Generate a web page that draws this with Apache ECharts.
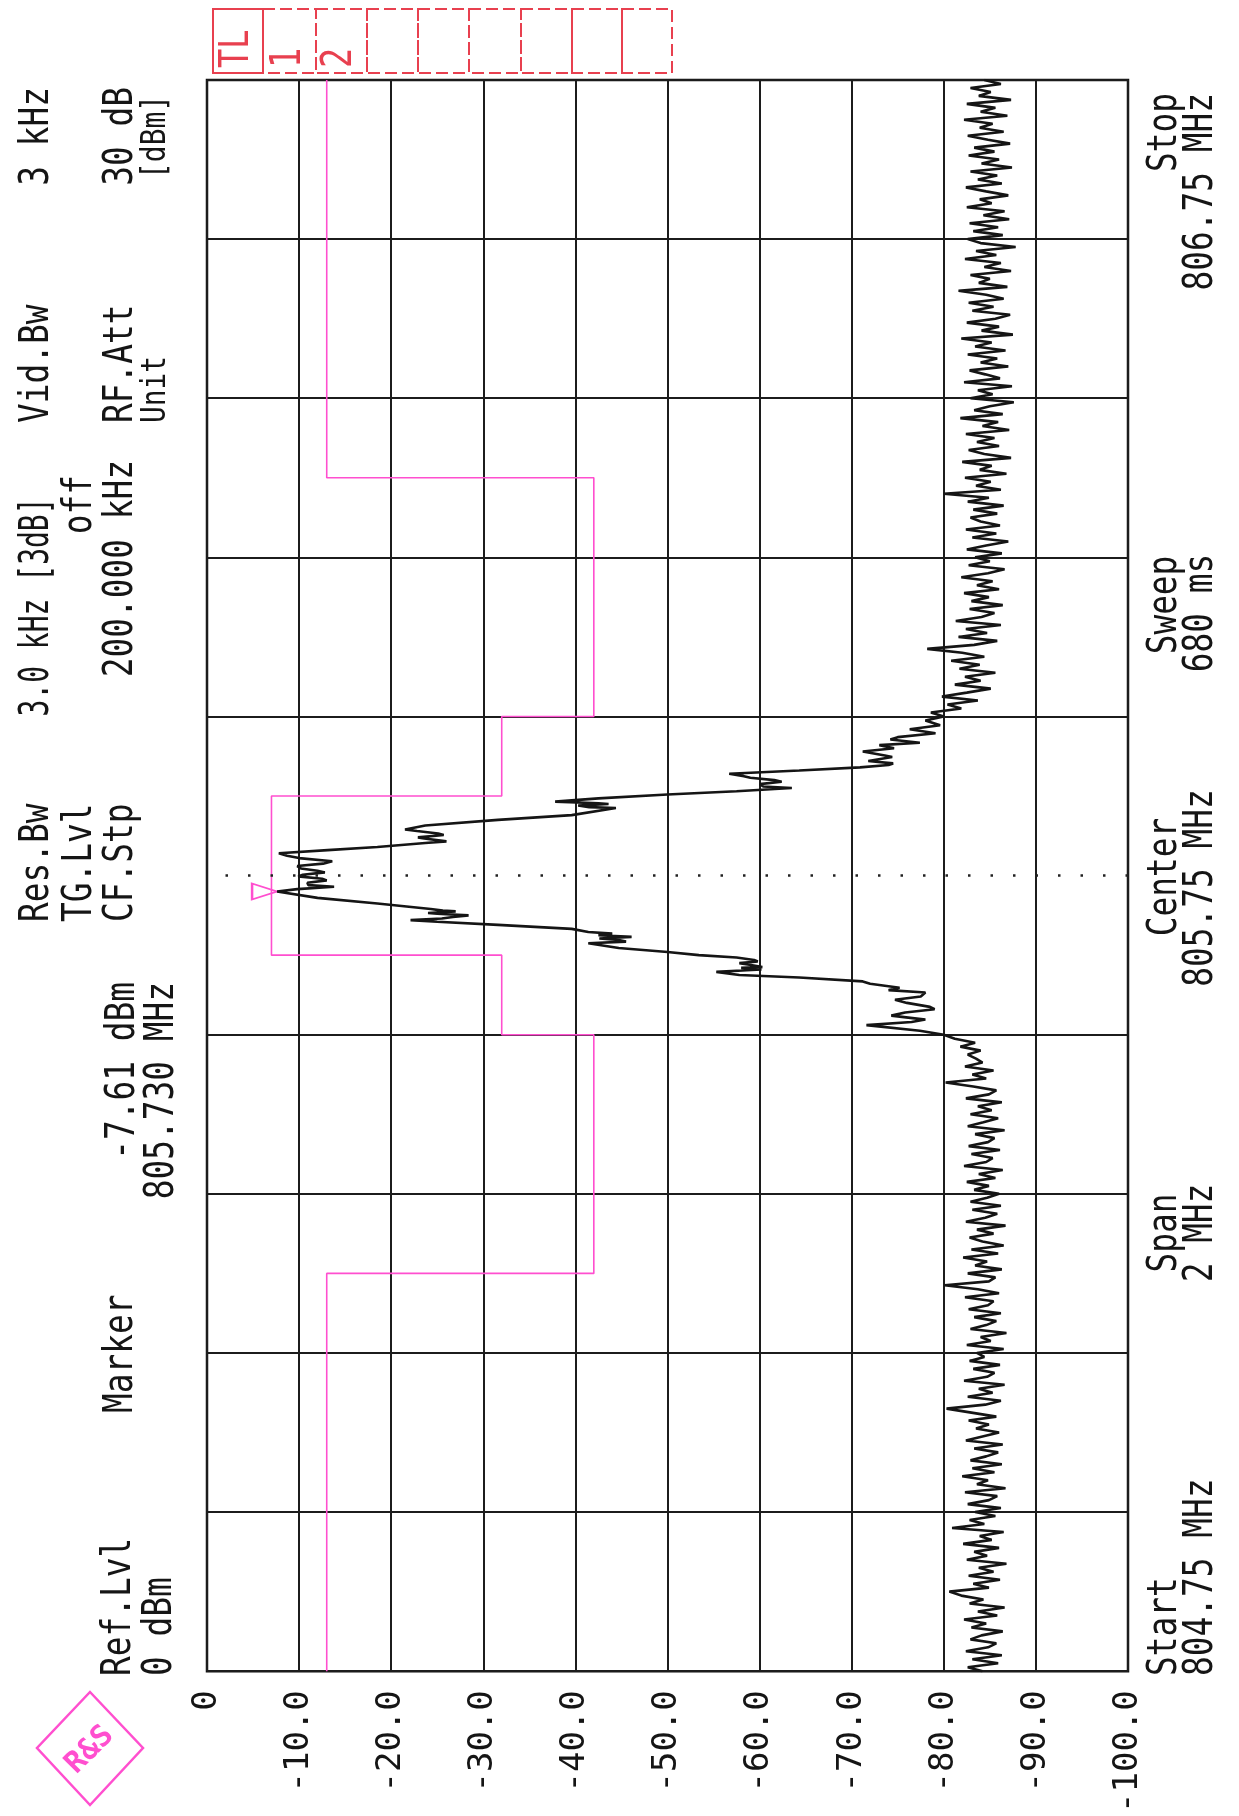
<!DOCTYPE html>
<html><head><meta charset="utf-8">
<script src="https://cdn.jsdelivr.net/npm/echarts@6.0.0/dist/echarts.min.js"></script>
<style>html,body{margin:0;padding:0;background:#fff;}#c{width:1239px;height:1816px;}</style>
</head><body><div id="c"></div>
<script>
// ---------------- data ----------------
const START_MHZ = 804.75;
const STOP_MHZ = 806.75;
const STEP_MHZ = 0.005;
const levelTickLabels = ['0','-10.0','-20.0','-30.0','-40.0','-50.0','-60.0','-70.0','-80.0','-90.0','-100.0'];

// noise floor below the carrier, 804.750 ... 805.545 MHz (5 kHz steps)
const lowNoiseLevels = [
 -84.2,-82.6,-85.9,-83.1,-86.3,-82.4,-84.8,-85.7,-82.9,-84.1,
 -86.4,-83.0,-84.6,-82.2,-85.8,-83.7,-86.6,-82.8,-84.3,-81.9,
 -80.6,-84.9,-83.2,-86.1,-82.7,-85.4,-83.8,-86.8,-82.5,-84.7,
 -83.3,-86.0,-82.1,-85.2,-83.9,-86.5,-80.9,-84.4,-82.8,-85.6,
 -83.4,-86.2,-82.6,-84.9,-85.8,-82.3,-86.7,-83.6,-84.8,-82.0,
 -85.5,-83.1,-86.3,-82.9,-84.6,-85.9,-83.3,-86.4,-82.4,-84.2,
 -86.0,-83.5,-84.9,-82.7,-85.7,-83.0,-80.3,-84.5,-86.2,-82.6,
 -85.3,-83.8,-86.6,-82.2,-84.7,-85.5,-83.2,-86.1,-82.8,-84.4,
 -83.6,-86.5,-82.5,-85.1,-84.0,-86.8,-82.9,-84.6,-85.7,-83.3,
 -86.2,-82.7,-84.8,-85.4,-82.3,-86.0,-83.7,-80.1,-84.9,-85.6,
 -82.6,-86.3,-83.4,-84.7,-82.1,-85.9,-83.0,-86.5,-84.2,-82.8,
 -85.4,-83.6,-86.7,-82.4,-84.5,-85.8,-83.1,-86.2,-82.9,-84.7,
 -86.0,-83.3,-84.9,-82.5,-85.6,-83.8,-86.4,-82.2,-84.6,-85.3,
 -83.0,-86.1,-82.7,-84.8,-85.5,-83.4,-86.6,-82.6,-84.3,-85.9,
 -82.9,-85.2,-83.7,-86.3,-82.4,-84.9,-85.7,-83.2,-80.2,-84.6,
 -83.1,-85.4,-82.3,-84.2,-83.5,-82.6,-84.0,-81.8,-83.4,-81.2
];
const lowNoiseStart = 804.750;

// carrier region (frequency / level pairs)
const signalFreqs = [
 805.550,805.555,805.562,805.566,805.569,805.574,805.578,805.582,805.585,805.590,
 805.594,805.598,805.603,805.606,805.609,805.614,805.617,805.622,805.625,805.629,
 805.631,805.632,805.634,805.635,805.638,805.640,805.642,805.644,805.647,805.650,
 805.654,805.659,805.665,805.667,805.669,805.671,805.673,805.675,805.677,805.679,
 805.683,805.688,805.692,805.694,805.696,805.698,805.700,805.702,805.703,805.705,
 805.706,805.708,805.715,805.722,805.730,805.733,805.736,805.738,805.741,805.744,
 805.746,805.749,805.751,805.754,805.756,805.759,805.762,805.765,805.768,805.772,
 805.775,805.778,805.782,805.786,805.791,805.793,805.795,805.797,805.798,805.801,
 805.803,805.806,805.808,805.813,805.820,805.826,805.835,805.836,805.838,805.840,
 805.841,805.843,805.847,805.852,805.856,805.860,805.862,805.865,805.868,805.870,
 805.873,805.875,805.878,805.882,805.886,805.889,805.891,805.894,805.896,805.899,
 805.901,805.906,805.910,805.914,805.917,805.921,805.924,805.929,805.934,805.939,
 805.945,805.950
];
const signalLevels = [
 -80.0,-77.4,-71.6,-76.5,-78.0,-74.3,-75.8,-79.0,-78.5,-76.0,
 -74.7,-77.5,-78.0,-74.0,-75.2,-72.0,-71.2,-64.3,-57.8,-55.3,
 -58.6,-60.2,-58.0,-60.3,-58.9,-57.8,-59.8,-59.4,-57.5,-53.4,
 -50.0,-44.7,-41.4,-45.5,-44.7,-42.6,-46.1,-42.5,-44.0,-41.4,
 -39.6,-31.6,-25.0,-22.1,-25.5,-26.7,-28.4,-25.0,-24.0,-27.0,
 -25.6,-24.3,-18.5,-12.0,-7.61,-9.8,-13.8,-11.0,-10.9,-13.0,
 -12.5,-9.9,-10.4,-12.8,-12.0,-10.2,-9.8,-12.6,-13.6,-10.0,
 -8.7,-7.8,-13.1,-18.5,-23.7,-26.0,-25.8,-23.4,-22.9,-25.7,
 -25.1,-22.8,-21.5,-23.7,-31.6,-39.6,-44.4,-41.5,-40.3,-43.6,
 -42.5,-37.8,-42.5,-50.0,-57.5,-63.5,-60.4,-60.0,-62.4,-61.6,
 -59.0,-58.3,-56.7,-64.3,-70.9,-74.0,-74.5,-71.8,-72.0,-74.4,
 -73.6,-71.2,-74.6,-73.0,-77.4,-74.2,-75.0,-79.1,-76.3,-79.6,
 -78.0,-80.0
];

// noise floor above the carrier, 805.955 ... 806.750 MHz (5 kHz steps)
const highNoiseStart = 805.955;
const highNoiseLevels = [
 -78.6,-81.9,-80.4,-83.7,-79.8,-82.5,-85.1,-81.2,-84.0,-82.3,
 -85.6,-81.7,-83.9,-80.8,-84.4,-82.0,-78.2,-83.3,-85.8,-81.6,
 -84.7,-82.4,-86.2,-81.3,-84.1,-85.5,-82.8,-86.4,-83.0,-84.9,
 -82.2,-86.0,-83.6,-85.3,-81.9,-84.8,-86.6,-82.7,-85.0,-83.4,
 -86.3,-82.5,-84.6,-87.0,-83.1,-85.7,-82.4,-86.1,-84.0,-82.9,
 -85.8,-83.2,-86.5,-82.6,-84.9,-80.0,-86.2,-83.5,-85.1,-82.3,
 -86.8,-83.9,-85.2,-82.0,-87.3,-84.4,-82.7,-86.0,-83.6,-85.5,
 -82.4,-87.1,-84.2,-85.9,-81.8,-86.4,-83.3,-85.0,-87.6,-82.9,
 -85.3,-83.7,-87.4,-82.2,-86.1,-84.5,-82.8,-87.0,-84.0,-85.8,
 -82.6,-86.7,-83.4,-85.2,-81.9,-87.5,-84.1,-86.0,-82.5,-85.6,
 -87.2,-83.1,-85.4,-82.7,-86.5,-84.6,-81.6,-86.9,-83.8,-85.0,
 -82.9,-87.3,-84.4,-86.2,-82.3,-85.7,-83.5,-87.8,-84.0,-82.6,
 -86.4,-83.2,-85.9,-82.8,-87.1,-84.3,-86.6,-82.5,-85.2,-83.9,
 -87.0,-84.6,-82.4,-86.3,-83.7,-85.8,-82.9,-87.4,-84.1,-86.0,
 -82.7,-85.5,-83.3,-87.2,-84.8,-82.6,-86.5,-83.9,-85.3,-82.2,
 -86.9,-84.0,-85.6,-82.5,-87.3,-83.8,-85.1,-82.9,-86.2,-84.4
];

// limit line (spectrum mask)
const limitFreqs  = [804.75,805.25,805.25,805.55,805.55,805.65,805.65,805.85,805.85,805.95,805.95,806.25,806.25,806.75];
const limitLevels = [-13,-13,-42,-42,-32,-32,-7,-7,-32,-32,-42,-42,-13,-13];

const markerFreq = 805.730;
const markerLevel = -7.61;
const centerFreq = 805.75;

// ---------------- build ----------------
const r3 = v => Math.round(v * 1000) / 1000;
const trace = [];
lowNoiseLevels.forEach((v, i) => trace.push([v, r3(lowNoiseStart + i * STEP_MHZ)]));
signalLevels.forEach((v, i) => trace.push([v, signalFreqs[i]]));
highNoiseLevels.forEach((v, i) => trace.push([v, r3(highNoiseStart + i * STEP_MHZ)]));
const limitData = limitLevels.map((v, i) => [v, limitFreqs[i]]);

const FONT = '"DejaVu Sans Mono", "Liberation Mono", monospace';
const INK = '#151515';
const PINK = '#ff4fcf';
const RED = '#e8404f';

function vtext(txt, x, y, align, size, opts) {
  opts = opts || {};
  return {
    type: 'text', x: x, y: y, rotation: Math.PI / 2,
    scaleX: opts.sx || 0.82, z: 20, silent: true,
    style: { text: txt, align: align, verticalAlign: 'middle',
      font: (size || 40) + 'px ' + FONT, fill: opts.color || INK }
  };
}

const L1 = 38, L2 = 81, L3 = 122, L4 = 161;
const graphics = [
  vtext('Ref.Lvl', L3 - 2, 1676, 'left'),
  vtext('0 dBm', L4, 1676, 'left'),
  vtext('Marker', L3, 1413, 'left'),
  vtext('-7.61 dBm', L3 + 2, 982, 'right'),
  vtext('805.730 MHz', L4 + 2, 982, 'right'),
  vtext('Res.Bw', L1, 922, 'left'),
  vtext('TG.Lvl', L2, 922, 'left'),
  vtext('CF.Stp', L3, 922, 'left'),
  vtext('3.0 kHz [3dB]', L1, 607, 'center', 40, {sx: 0.7}),
  vtext('off', L2, 475, 'right'),
  vtext('200.000 kHz', L3, 460, 'right'),
  vtext('Vid.Bw', L1, 423, 'left'),
  vtext('RF.Att', L3, 423, 'left'),
  vtext('Unit', 156, 423, 'left', 34),
  vtext('3 kHz', L1, 87, 'right'),
  vtext('30 dB', L3, 87, 'right'),
  vtext('[dBm]', 156, 95, 'right', 34),
  vtext('Stop', 1166, 93, 'right'),
  vtext('806.75 MHz', 1202, 93, 'right'),
  vtext('Sweep', 1166, 605, 'center'),
  vtext('680 ms', 1202, 613, 'center'),
  vtext('Center', 1166, 877, 'center'),
  vtext('805.75 MHz', 1202, 888, 'center'),
  vtext('Span', 1166, 1233, 'center'),
  vtext('2 MHz', 1202, 1233, 'center'),
  vtext('Start', 1166, 1676, 'left'),
  vtext('804.75 MHz', 1202, 1676, 'left'),
  // R&S logo
  { type: 'polygon', silent: true, z: 20,
    shape: { points: [[90,1692],[143,1748],[90,1805],[37,1748]] },
    style: { fill: 'none', stroke: PINK, lineWidth: 2.5 } },
  { type: 'text', x: 90, y: 1750, rotation: Math.PI / 4, silent: true, z: 21,
    style: { text: 'R&S', align: 'center', verticalAlign: 'middle',
      font: 'bold 30px ' + FONT, fill: PINK } }
];
// trace / limit-line indicator boxes at the top
const boxEdges = [213,263,316,367,418,469,521,572,622,672];
for (let i = 0; i < boxEdges.length - 1; i++) {
  graphics.push({ type: 'rect', silent: true, z: 20,
    shape: { x: boxEdges[i], y: 9, width: boxEdges[i+1] - boxEdges[i], height: 64 },
    style: { fill: 'none', stroke: RED, lineWidth: 2, lineDash: i === 0 ? null : [12, 5] } });
}
graphics.push(vtext('TL', 238, 68, 'left', 40, {color: RED, sx: 0.8}));
graphics.push(vtext('1', 289, 68, 'left', 42, {color: RED, sx: 0.8}));
graphics.push(vtext('2', 340, 68, 'left', 42, {color: RED, sx: 0.8}));

const gridColors = [];
for (let i = 0; i <= 10; i++) gridColors.push(i === 5 ? 'rgba(0,0,0,0)' : '#1c1c1c');

const chart = echarts.init(document.getElementById('c'), null, { renderer: 'canvas' });
chart.setOption({
  animation: false,
  backgroundColor: '#ffffff',
  grid: { left: 207, right: 111, top: 80, bottom: 140, show: true,
    borderColor: '#111', borderWidth: 2.5, backgroundColor: 'transparent' },
  xAxis: {
    type: 'value', min: -100, max: 0, interval: 10, inverse: true, position: 'bottom',
    axisLine: { show: false }, axisTick: { show: false },
    splitLine: { show: true, lineStyle: { color: '#1c1c1c', width: 2 } },
    axisLabel: { rotate: 90, margin: 19, fontFamily: FONT, fontSize: 34, color: INK,
      formatter: v => levelTickLabels[Math.round(-v / 10)] }
  },
  yAxis: {
    type: 'value', min: START_MHZ, max: STOP_MHZ, interval: 0.2,
    axisLine: { show: false }, axisTick: { show: false }, axisLabel: { show: false },
    splitLine: { show: true, lineStyle: { color: gridColors, width: 2 } }
  },
  series: [
    { type: 'line', name: 'limit', data: limitData, symbol: 'none', z: 3,
      lineStyle: { color: PINK, width: 1.6 }, silent: true },
    { type: 'line', name: 'trace', data: trace, symbol: 'none', z: 5,
      lineStyle: { color: INK, width: 2.6 }, silent: true,
      markLine: { silent: true, symbol: 'none', label: { show: false },
        lineStyle: { color: '#222', width: 2.5, type: [2.5, 20] },
        data: [{ yAxis: centerFreq }] },
      markPoint: { silent: true, symbol: 'triangle', symbolSize: [16, 25],
        symbolRotate: -90, symbolOffset: [-12.5, 0], label: { show: false },
        itemStyle: { color: 'rgba(0,0,0,0)', borderColor: PINK, borderWidth: 2 },
        data: [{ coord: [markerLevel, markerFreq] }] } }
  ],
  graphic: graphics
});
</script></body></html>
